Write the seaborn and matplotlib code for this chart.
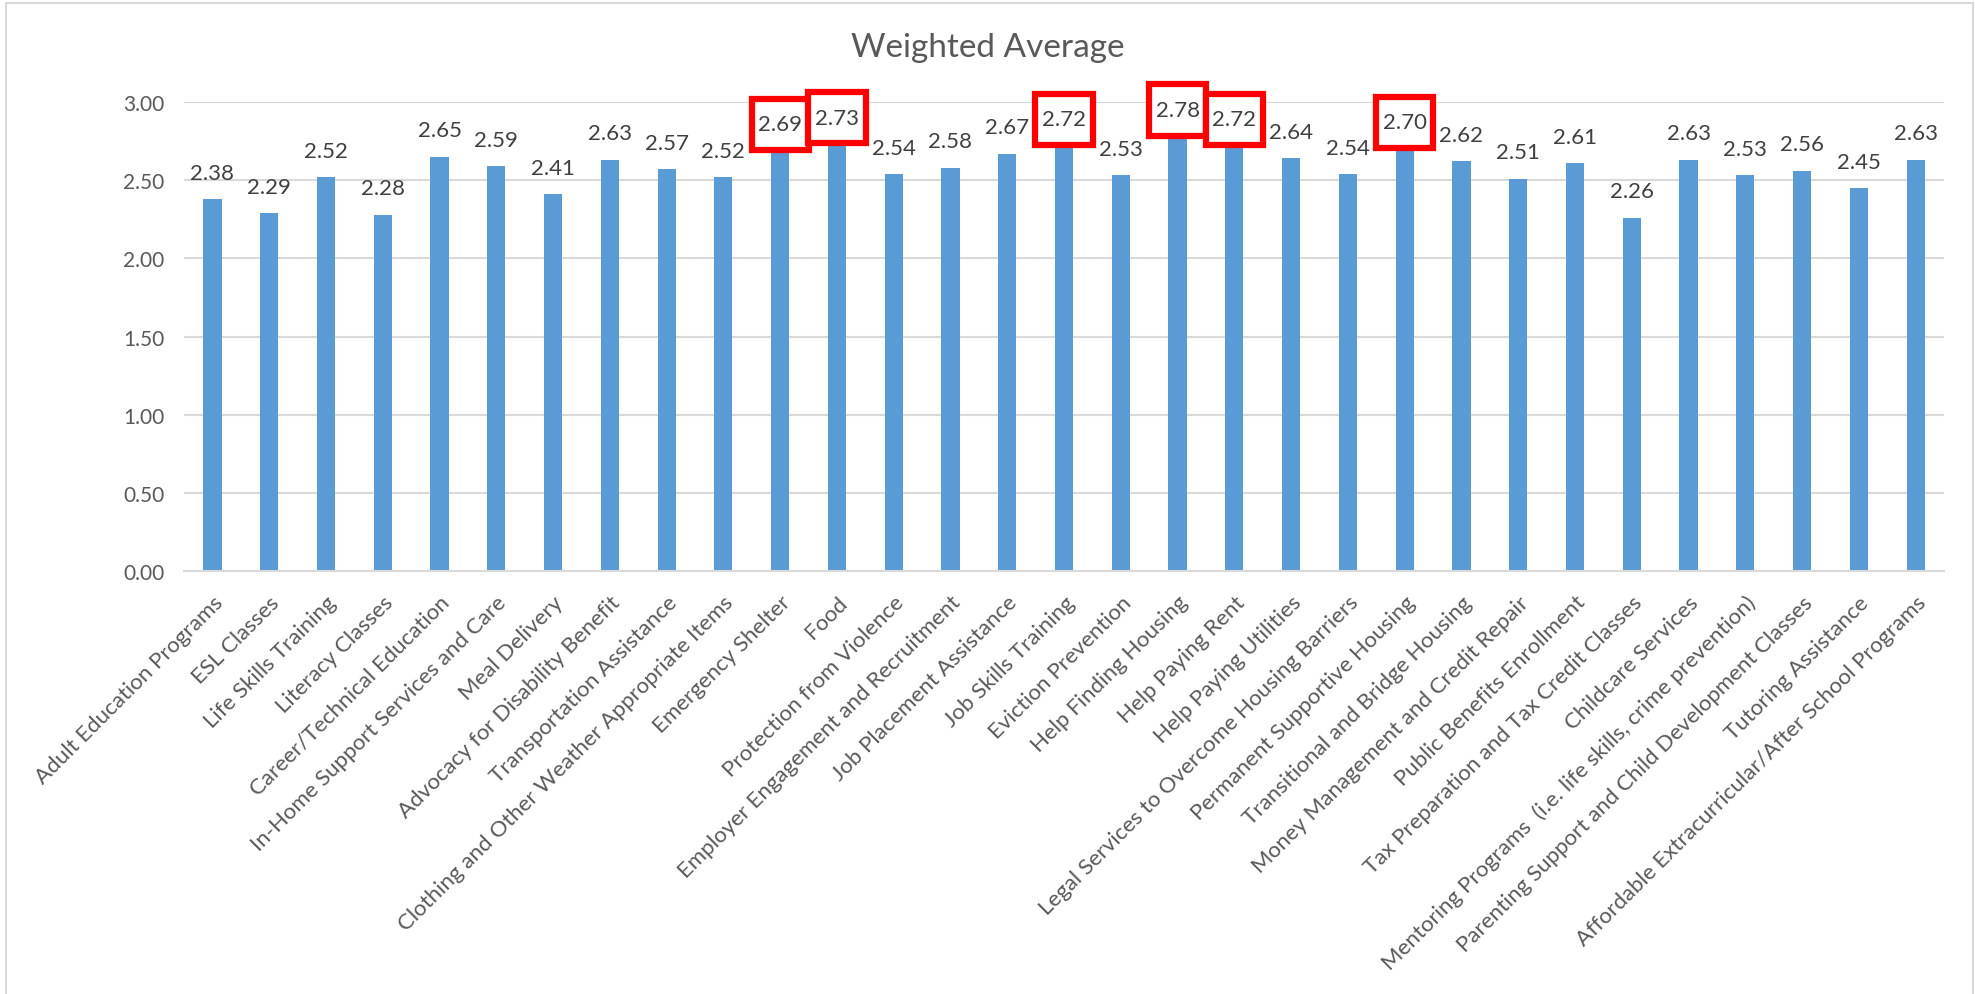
import numpy as np
import pandas as pd
import matplotlib
matplotlib.use("Agg")
import matplotlib.pyplot as plt
from matplotlib.path import Path
from matplotlib.patches import Rectangle
import seaborn as sns

# Données du graphique
categories = [
    "Adult Education Programs", "ESL Classes", "Life Skills Training", "Literacy Classes",
    "Career/Technical Education", "In-Home Support Services and Care", "Meal Delivery",
    "Advocacy for Disability Benefit", "Transportation Assistance",
    "Clothing and Other Weather Appropriate Items", "Emergency Shelter", "Food",
    "Protection from Violence", "Employer Engagement and Recruitment",
    "Job Placement Assistance", "Job Skills Training", "Eviction Prevention",
    "Help Finding Housing", "Help Paying Rent", "Help Paying Utilities",
    "Legal Services to Overcome Housing Barriers", "Permanent Supportive Housing",
    "Transitional and Bridge Housing", "Money Management and Credit Repair",
    "Public Benefits Enrollment", "Tax Preparation and Tax Credit Classes",
    "Childcare Services", "Mentoring Programs  (i.e. life skills, crime prevention)",
    "Parenting Support and Child Development Classes", "Tutoring Assistance",
    "Affordable Extracurricular/After School Programs",
]
values = [2.38, 2.29, 2.52, 2.28, 2.65, 2.59, 2.41, 2.63, 2.57, 2.52, 2.69, 2.73,
          2.54, 2.58, 2.67, 2.72, 2.53, 2.78, 2.72, 2.64, 2.54, 2.70, 2.62, 2.51,
          2.61, 2.26, 2.63, 2.53, 2.56, 2.45, 2.63]
highlighted = ["Emergency Shelter", "Food", "Job Skills Training", "Help Finding Housing",
               "Help Paying Rent", "Permanent Supportive Housing"]
yticks = [0.0, 0.5, 1.0, 1.5, 2.0, 2.5, 3.0]

df = pd.DataFrame({"category": categories, "value": values})

sns.set_theme(style="white")
plt.rcParams["font.family"] = ["Lato", "DejaVu Sans"]

fig = plt.figure(figsize=(19.75, 9.95), dpi=100)
ax = fig.add_axes([0.0932, 0.4251, 0.8911, 0.4714])

sns.barplot(data=df, x="category", y="value", color="#5B9BD5", saturation=1,
            width=0.32, linewidth=0, ax=ax)

ax.set_ylim(0, 3)
ax.set_xlim(-0.5, len(categories) - 0.5)
ax.set_yticks(yticks)
ax.set_yticklabels([f"{t:.2f}" for t in yticks])
ax.yaxis.grid(True, color="#D9D9D9", linewidth=1.5)
ax.set_axisbelow(True)
for side in ["top", "right", "left"]:
    ax.spines[side].set_visible(False)
ax.spines["bottom"].set_color("#D9D9D9")
ax.spines["bottom"].set_linewidth(1.5)
ax.set_xlabel("")
ax.set_ylabel("")
ax.tick_params(axis="y", length=0, labelsize=15, labelcolor="#595959", pad=14)
ax.tick_params(axis="x", length=0, labelsize=16, labelcolor="#595959", pad=15)
plt.setp(ax.get_xticklabels(), rotation=45, ha="right", rotation_mode="anchor", va="top")


# Cadre rouge autour de certaines étiquettes (marge horizontale/verticale distincte)
def red_box(x0, y0, width, height, mutation_size):
    px, py = 0.3 * mutation_size, 0.7 * mutation_size
    x0, y0 = x0 - px, y0 - py
    x1, y1 = x0 + width + 2 * px, y0 + height + 2 * py
    return Path([(x0, y0), (x1, y0), (x1, y1), (x0, y1), (x0, y0)], closed=True)


# Étiquettes de données
for i, (cat, val) in enumerate(zip(categories, values)):
    kw = {}
    if cat in highlighted:
        kw["bbox"] = dict(boxstyle=red_box, fc="white", ec="#FF0000", lw=4.5)
    ax.annotate(f"{val:.2f}", xy=(i, val), xytext=(0, 19), textcoords="offset points",
                ha="center", va="center", fontsize=16, color="#404040",
                annotation_clip=False, zorder=5, **kw)

fig.suptitle("Weighted Average", y=0.952, va="center", fontsize=24, color="#595959")

# Bordure du graphique
fig.patches.append(Rectangle((0.0028, -0.01), 0.9962, 1.006, transform=fig.transFigure,
                             fill=False, ec="#D9D9D9", lw=1.5))

plt.savefig("out.png", dpi=100)
